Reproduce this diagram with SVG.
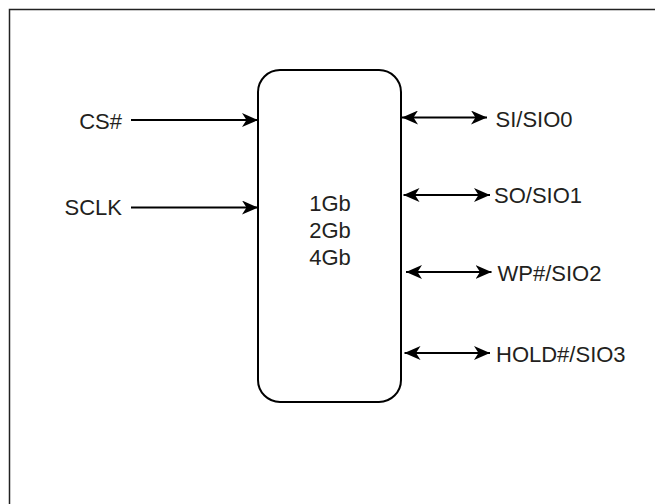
<svg xmlns="http://www.w3.org/2000/svg" width="655" height="504" viewBox="0 0 655 504">
<style>
.lbl{font-family:"Liberation Sans",Arial,sans-serif;font-size:22px;fill:#231f20}
.wire{stroke:#000;stroke-width:2.2;fill:none}
.in{marker-end:url(#ah)}
.bi{marker-start:url(#ah);marker-end:url(#ah)}
</style>
<defs>
<marker id="ah" markerUnits="userSpaceOnUse" viewBox="0 0 16 14" refX="16" refY="7" markerWidth="16" markerHeight="14" orient="auto-start-reverse">
<path d="M0,0 L16,7 L0,14 L4.5,7 z" fill="#000"/>
</marker>
</defs>
<rect x="9.5" y="9.5" width="700" height="600" fill="#fff" stroke="#222" stroke-width="1.5"/>
<g id="chip">
<rect x="258" y="70" width="143" height="332" rx="22" ry="22" fill="#fff" stroke="#000" stroke-width="2"/>
<text class="lbl" x="330" y="210.5" text-anchor="middle">1Gb</text>
<text class="lbl" x="330" y="238" text-anchor="middle">2Gb</text>
<text class="lbl" x="330" y="265" text-anchor="middle">4Gb</text>
</g>
<g id="connectors">
<line class="wire in" x1="131" y1="120" x2="258" y2="120"/>
<line class="wire in" x1="131" y1="207.5" x2="258" y2="207.5"/>
<line class="wire bi" x1="402" y1="117.5" x2="487" y2="117.5"/>
<line class="wire bi" x1="403.5" y1="195" x2="490" y2="195"/>
<line class="wire bi" x1="406" y1="272" x2="491.5" y2="272"/>
<line class="wire bi" x1="404.5" y1="353" x2="490" y2="353"/>
</g>
<g id="cs"><text class="lbl" x="122" y="128.5" text-anchor="end">CS#</text></g>
<g id="sclk"><text class="lbl" x="122" y="215" text-anchor="end">SCLK</text></g>
<g id="sio0"><text class="lbl" x="495.5" y="126.5">SI/SIO0</text></g>
<g id="sio1"><text class="lbl" x="494" y="202.5">SO/SIO1</text></g>
<g id="sio2"><text class="lbl" x="497.5" y="281">WP#/SIO2</text></g>
<g id="sio3"><text class="lbl" x="496" y="361.5">HOLD#/SIO3</text></g>
</svg>
